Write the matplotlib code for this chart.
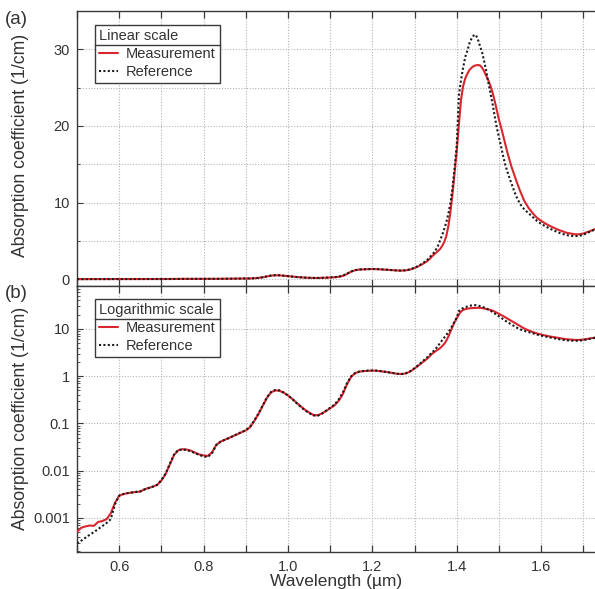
import numpy as np
import matplotlib
matplotlib.use("Agg")
import matplotlib.pyplot as plt
from matplotlib.ticker import MultipleLocator, FixedLocator, NullFormatter, LogLocator, FuncFormatter
from matplotlib.lines import Line2D

plt.rcParams['font.family'] = ['Liberation Sans', 'DejaVu Sans']
plt.rcParams['text.color'] = '#333333'
plt.rcParams['axes.labelcolor'] = '#333333'
plt.rcParams['xtick.color'] = '#333333'
plt.rcParams['ytick.color'] = '#333333'

# Sampling wavelengths (µm)
wl_a = np.round(np.arange(0.50, 1.335, 0.01), 3)
wl_b = np.round(np.arange(1.335, 1.5205, 0.005), 3)
wl_c = np.round(np.arange(1.53, 1.7305, 0.01), 3)
wavelength = np.concatenate([wl_a, wl_b, wl_c])

# Measured absorption coefficient (1/cm)
meas_a = [5.1e-4, 6.2e-4, 6.6e-4, 6.9e-4, 6.8e-4, 8.2e-4, 8.6e-4, 9.4e-4, 1.25e-3, 2.1e-3,
          2.95e-3, 3.2e-3, 3.35e-3, 3.45e-3, 3.55e-3, 3.6e-3, 4.05e-3, 4.3e-3, 4.6e-3, 5.0e-3,
          6.2e-3, 8.5e-3, 1.35e-2, 2.15e-2, 2.7e-2, 2.85e-2, 2.8e-2, 2.65e-2, 2.4e-2, 2.2e-2,
          2.1e-2, 2.05e-2, 2.45e-2, 3.5e-2, 4.1e-2, 4.5e-2, 4.9e-2, 5.4e-2, 5.9e-2, 6.5e-2,
          7.1e-2, 8.3e-2, 0.112, 0.158, 0.234, 0.347, 0.457, 0.50, 0.49, 0.447,
          0.39, 0.33, 0.275, 0.23, 0.195, 0.17, 0.151, 0.148, 0.162, 0.182,
          0.21, 0.24, 0.30, 0.42, 0.68, 0.98, 1.17, 1.25, 1.28, 1.30,
          1.31, 1.30, 1.27, 1.24, 1.20, 1.16, 1.12, 1.11, 1.15, 1.26,
          1.45, 1.70, 2.0, 2.35]
meas_b = [2.6, 2.9, 3.15, 3.4, 3.65, 3.9, 4.3, 4.8, 5.6, 6.9,
          8.8, 11.2, 14.0, 16.8, 20.2, 23.4, 25.2, 26.2, 26.8, 27.3,
          27.6, 27.8, 27.9, 27.95, 27.9, 27.6, 27.1, 26.5, 25.9, 25.2,
          24.3, 23.2, 22.0, 20.8, 19.8, 18.7, 17.6, 16.5]
meas_c = [14.6, 13.0, 11.5, 10.2, 9.3, 8.6, 8.0, 7.6, 7.25, 6.95,
          6.7, 6.45, 6.25, 6.05, 5.95, 5.85, 5.85, 5.95, 6.15, 6.35,
          6.6]
measurement = np.array(meas_a + meas_b + meas_c)

# Reference absorption coefficient (1/cm)
ref_a = [2.9e-4, 3.3e-4, 3.8e-4, 4.4e-4, 5.0e-4, 5.8e-4, 6.7e-4, 7.8e-4, 9.4e-4, 1.95e-3,
         2.95e-3, 3.2e-3, 3.35e-3, 3.45e-3, 3.55e-3, 3.65e-3, 4.0e-3, 4.3e-3, 4.6e-3, 5.0e-3,
         6.3e-3, 8.7e-3, 1.4e-2, 2.2e-2, 2.75e-2, 2.8e-2, 2.75e-2, 2.55e-2, 2.35e-2, 2.15e-2,
         2.0e-2, 1.95e-2, 2.35e-2, 3.5e-2, 4.1e-2, 4.5e-2, 4.9e-2, 5.4e-2, 6.0e-2, 6.6e-2,
         7.2e-2, 8.5e-2, 0.115, 0.162, 0.24, 0.355, 0.465, 0.51, 0.50, 0.45,
         0.39, 0.33, 0.27, 0.225, 0.19, 0.165, 0.148, 0.145, 0.16, 0.185,
         0.215, 0.25, 0.32, 0.45, 0.72, 1.0, 1.18, 1.26, 1.29, 1.31,
         1.32, 1.31, 1.28, 1.24, 1.20, 1.16, 1.12, 1.11, 1.16, 1.28,
         1.48, 1.75, 2.1, 2.5]
ref_b = [2.8, 3.1, 3.4, 3.8, 4.3, 5.0, 5.7, 6.5, 7.4, 8.5,
         10.0, 12.0, 14.6, 17.6, 24.0, 26.0, 27.6, 29.0, 29.8, 30.8,
         31.4, 31.8, 31.9, 31.3, 30.4, 29.6, 28.4, 27.1, 25.6, 24.2,
         22.8, 21.2, 19.7, 18.5, 17.3, 16.0, 14.9, 14.0]
ref_c = [12.4, 10.9, 9.8, 9.1, 8.6, 8.1, 7.6, 7.2, 6.9, 6.6,
         6.35, 6.1, 5.9, 5.75, 5.65, 5.6, 5.65, 5.8, 6.05, 6.3,
         6.55]
reference = np.array(ref_a + ref_b + ref_c)

RED = '#d9262e'
SPINE = '#3a3a3a'
GRID = '#b5b5b5'

fig = plt.figure(figsize=(5.95, 5.89), dpi=100)
ax_lin = fig.add_axes([77 / 595, 1 - 286 / 589, 1 - 77 / 595, (286 - 11) / 589])
ax_log = fig.add_axes([77 / 595, 1 - 552 / 589, 1 - 77 / 595, (552 - 286) / 589])


def style_axes(ax):
    for side in ['top', 'bottom', 'left']:
        ax.spines[side].set_color(SPINE)
        ax.spines[side].set_linewidth(1.0)
    ax.spines['right'].set_visible(False)
    ax.set_xlim(0.5, 1.7275)
    ax.xaxis.set_major_locator(MultipleLocator(0.2))
    ax.xaxis.set_minor_locator(MultipleLocator(0.1))
    ax.tick_params(axis='x', which='both', direction='in', top=True, bottom=True,
                   length=5, width=0.9, color=SPINE, labelsize=10.5, pad=6)
    ax.tick_params(axis='y', which='major', direction='in', left=True, right=False,
                   length=4, width=0.8, color=SPINE, labelsize=10.5, pad=5)
    ax.tick_params(axis='y', which='minor', direction='in', left=True, right=False,
                   length=2.5, width=0.6, color=SPINE)
    ax.grid(True, which='both', color=GRID, linestyle=(0, (1, 1.5)), linewidth=0.8)
    ax.set_axisbelow(True)


def draw_series(ax):
    ax.plot(wavelength, measurement, color=RED, linewidth=1.5, label='Measurement',
            zorder=3, solid_capstyle='round')
    ax.plot(wavelength, reference, color='#1a1a1a', linewidth=1.5,
            linestyle=(0, (1, 1.1)), label='Reference', zorder=4)


# (a) linear scale
style_axes(ax_lin)
draw_series(ax_lin)
ax_lin.set_ylim(-0.9, 35)
ax_lin.yaxis.set_major_locator(FixedLocator([0, 10, 20, 30]))
ax_lin.yaxis.set_minor_locator(FixedLocator([5, 15, 25]))
ax_lin.tick_params(axis='x', labelbottom=False)
ax_lin.set_ylabel('Absorption coefficient (1/cm)', fontsize=12.7)

# (b) logarithmic scale
style_axes(ax_log)
draw_series(ax_log)
ax_log.set_yscale('log')
ax_log.set_ylim(1.9e-4, 81)
ax_log.yaxis.set_major_locator(FixedLocator([1e-3, 1e-2, 1e-1, 1, 10]))
ax_log.yaxis.set_major_formatter(FuncFormatter(
    lambda v, p: {1e-3: '0.001', 1e-2: '0.01', 1e-1: '0.1', 1: '1', 10: '10'}.get(v, '')))
ax_log.yaxis.set_minor_locator(LogLocator(base=10, subs=np.arange(2, 10), numticks=20))
ax_log.yaxis.set_minor_formatter(NullFormatter())
ax_log.grid(False, which='minor', axis='y')
ax_log.xaxis.set_major_formatter(FuncFormatter(lambda v, p: f'{v:.1f}'))
ax_log.set_ylabel('Absorption coefficient (1/cm)', fontsize=12.7)
ax_log.set_xlabel('Wavelength (µm)', fontsize=12.5, labelpad=0)

# Place both y labels at the same offset from the axes
ax_lin.yaxis.set_label_coords(-0.093, (286 - 145) / 275)
ax_log.yaxis.set_label_coords(-0.093, (552 - 418) / 266)

fig.text(5 / 595, 1 - 20 / 589, '(a)', fontsize=13.5, va='center', ha='left')
fig.text(5 / 595, 1 - 294 / 589, '(b)', fontsize=13.5, va='center', ha='left')


def boxed_legend(ax, title, anchor):
    leg = ax.legend(title=title, loc='upper left', bbox_to_anchor=anchor, borderaxespad=0,
                    fontsize=10.5, title_fontsize=10.5, frameon=True, fancybox=False,
                    framealpha=1, edgecolor=SPINE, handlelength=1.3, handletextpad=0.5,
                    borderpad=0.3, labelspacing=0.25, alignment='left')
    leg.get_frame().set_linewidth(1.0)
    leg.set_zorder(10)
    return leg


leg_lin = boxed_legend(ax_lin, 'Linear scale', (18 / 518, (286 - 25) / 275))
leg_log = boxed_legend(ax_log, 'Logarithmic scale', (18 / 518, (552 - 299) / 266))

# Separator line under each legend title
fig.canvas.draw()
inv = fig.transFigure.inverted()
for leg in (leg_lin, leg_log):
    fb = leg.get_frame().get_window_extent()
    tb = leg.get_title().get_window_extent()
    y = tb.y0 - 2
    (x0, yy), (x1, _) = inv.transform([(fb.x0, y), (fb.x1, y)])
    fig.add_artist(Line2D([x0, x1], [yy, yy], transform=fig.transFigure,
                          color=SPINE, linewidth=1.0, zorder=20))

fig.savefig('out.png', dpi=100)
